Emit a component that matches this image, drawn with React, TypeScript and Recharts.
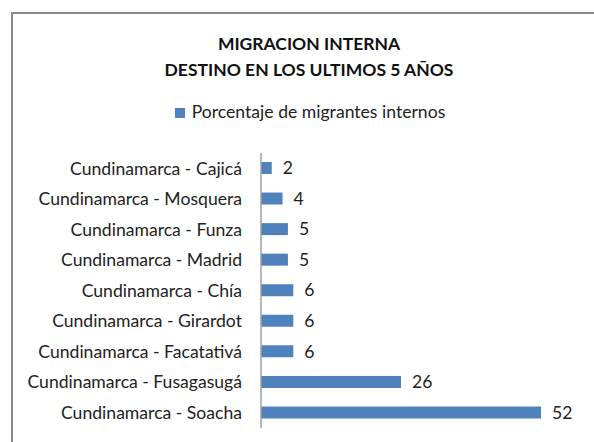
import React from "react";
import { BarChart, Bar, XAxis, YAxis, LabelList } from "recharts";

const destinos = [
  "Cundinamarca - Cajicá",
  "Cundinamarca - Mosquera",
  "Cundinamarca - Funza",
  "Cundinamarca - Madrid",
  "Cundinamarca - Chía",
  "Cundinamarca - Girardot",
  "Cundinamarca - Facatativá",
  "Cundinamarca - Fusagasugá",
  "Cundinamarca - Soacha",
];
const porcentajes = [2, 4, 5, 5, 6, 6, 6, 26, 52];

const data = destinos.map((d, i) => ({ destino: d, valor: porcentajes[i] }));

const FONT = "Lato, 'Open Sans', sans-serif";

export default function App() {
  return (
    <div style={{ position: "relative", width: 594, height: 442, background: "#fff", overflow: "hidden", fontFamily: FONT }}>
      <style>{"body{margin:0}"}</style>
      {/* chart frame */}
      <div
        style={{
          position: "absolute",
          left: 11,
          top: 12,
          width: 620,
          height: 460,
          border: "2px solid #8a8a8a",
          boxSizing: "border-box",
        }}
      />
      <div
        style={{
          position: "absolute",
          left: 0,
          top: 31,
          width: 618,
          textAlign: "center",
          fontWeight: 700,
          fontSize: 17.5,
          lineHeight: "26px",
          color: "#111",
        }}
      >
        MIGRACION INTERNA
        <br />
        DESTINO EN LOS ULTIMOS 5 AÑOS
      </div>
      {/* legend */}
      <div
        style={{
          position: "absolute",
          left: 0,
          top: 101,
          width: 620,
          textAlign: "center",
          fontSize: 17.6,
          color: "#222",
        }}
      >
        <span style={{ display: "inline-block", width: 10, height: 10, background: "#4F81BD", marginRight: 7 }} />
        Porcentaje de migrantes internos
      </div>
      <div style={{ position: "absolute", left: 0, top: 0 }}>
        <BarChart
          width={594}
          height={442}
          data={data}
          layout="vertical"
          margin={{ top: 153, right: 53, bottom: 14, left: 0 }}
          barCategoryGap={0}
        >
          <XAxis type="number" domain={[0, 52]} hide />
          <YAxis
            type="category"
            dataKey="destino"
            width={261}
            tickLine={false}
            tickMargin={13}
            axisLine={{ stroke: "#a0a0a0", strokeWidth: 1.5 }}
            tick={{ fontSize: 17.6, fill: "#222", fontFamily: FONT }}
            interval={0}
          />
          <Bar dataKey="valor" fill="#4F81BD" barSize={12} isAnimationActive={false}>
            <LabelList
              dataKey="valor"
              position="right"
              offset={11}
              style={{ fontSize: 17.6, fill: "#222", fontFamily: FONT }}
            />
          </Bar>
        </BarChart>
      </div>
    </div>
  );
}
